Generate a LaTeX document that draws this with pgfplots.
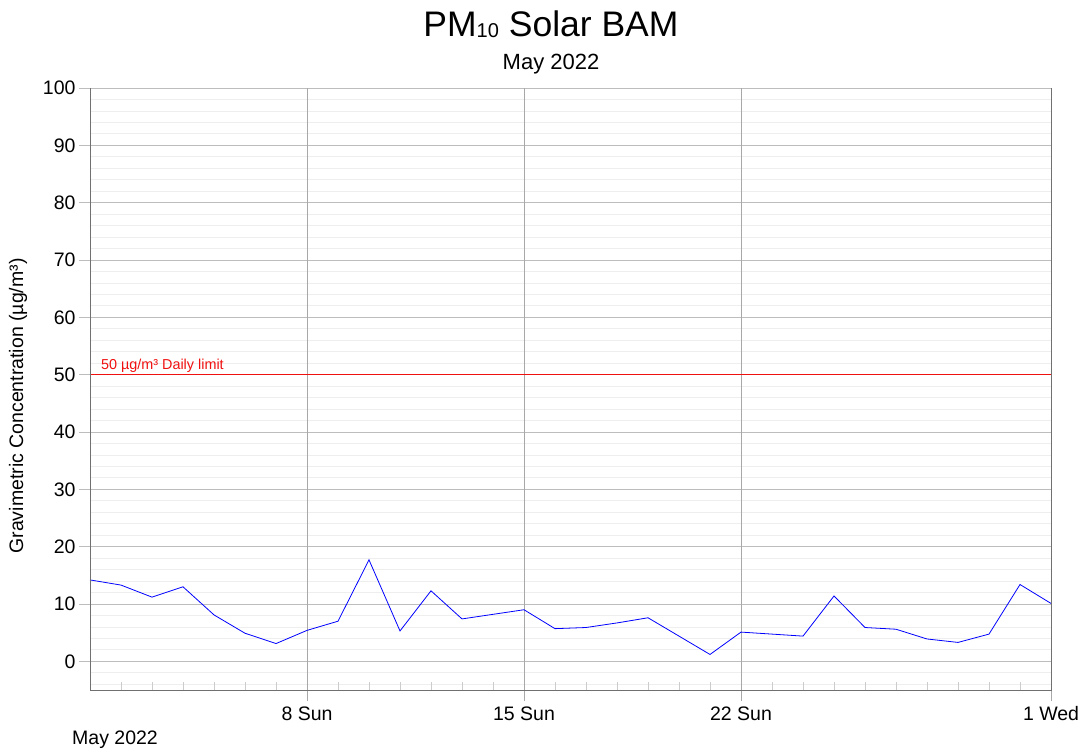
\documentclass[border=0pt]{standalone}
\usepackage{pgfplots}
\pgfplotsset{compat=1.18}
\usepackage{fontspec}
\setmainfont{Liberation Sans}
\definecolor{axgray}{HTML}{707070}
\definecolor{majgrid}{HTML}{BDBDBD}
\definecolor{vgrid}{HTML}{A8A8A8}
\definecolor{mingrid}{HTML}{EEEEEE}
\definecolor{mintick}{HTML}{CCCCCC}
\definecolor{limitred}{HTML}{F01010}
\begin{document}
\begin{tikzpicture}
\begin{axis}[
  name=ax,
  scale only axis,
  width=961pt, height=602pt,
  xmin=1, xmax=32, ymin=-5, ymax=100,
  axis line style={draw=none},
  xtick pos=bottom, ytick pos=left,
  xtick={8,15,22,32},
  xticklabels={8 Sun,15 Sun,22 Sun,1 Wed},
  minor xtick={2,3,4,5,6,7,9,10,11,12,13,14,16,17,18,19,20,21,23,24,25,26,27,28,29,30,31},
  ytick={0,10,...,100},
  minor ytick={-4,-2,...,98},
  ymajorgrids, yminorgrids,
  major grid style={majgrid, line width=0.8pt},
  minor grid style={mingrid, line width=0.8pt},
  tick align=outside,
  major tick length=11pt,
  minor tick length=8pt,
  major y tick style={majgrid, line width=0.8pt},
  major x tick style={vgrid, line width=0.8pt},
  minor x tick style={mintick, line width=0.8pt, yshift=8pt},
  minor y tick style={draw=none},
  tick label style={font=\fontsize{19.5}{22}\selectfont},
  /pgf/number format/assume math mode=true,
  yticklabel style={xshift=0pt},
  xticklabel style={yshift=-2pt},
  clip=false,
]
\draw[vgrid, line width=0.8pt] (axis cs:8,-5) -- (axis cs:8,100);
\draw[vgrid, line width=0.8pt] (axis cs:15,-5) -- (axis cs:15,100);
\draw[vgrid, line width=0.8pt] (axis cs:22,-5) -- (axis cs:22,100);
\addplot[limitred, line width=0.8pt] coordinates {(1,50) (32,50)};
\addplot[blue, line width=0.8pt] coordinates {
(1,14.2) (2,13.3) (3,11.2) (4,13.0) (5,8.1) (6,4.9) (7,3.1) (8,5.4)
(9,7.0) (10,17.7) (11,5.3) (12,12.3) (13,7.4) (14,8.2) (15,9.0) (16,5.7)
(17,5.9) (18,6.7) (19,7.6) (20,4.4) (21,1.2) (22,5.1) (23,4.75) (24,4.4)
(25,11.4) (26,5.9) (27,5.6) (28,3.9) (29,3.3) (30,4.75) (31,13.4) (32,10.1)};
\node[limitred, anchor=base west, font=\fontsize{14.4}{16}\selectfont, inner sep=0pt] at (axis cs:1.35,50.87) {50 µg/m³ Daily limit};
\draw[axgray, line width=0.9pt] (rel axis cs:0,1) -- (rel axis cs:0,0) -- (rel axis cs:1,0) -- (rel axis cs:1,1);
\end{axis}
\node[font=\fontsize{19.5}{22}\selectfont, rotate=90] at ([shift={(-72pt,284pt)}]ax.south west) {Gravimetric Concentration (µg/m³)};
\node[font=\fontsize{19.5}{22}\selectfont] at ([shift={(25pt,-50pt)}]ax.south west) {May 2022};
\node[font=\fontsize{35.5}{38}\selectfont, anchor=base] at ([shift={(461pt,51pt)}]ax.south west |- ax.north west) {PM\raisebox{-0.02em}{\fontsize{20}{22}\selectfont 10} Solar BAM};
\node[font=\fontsize{22}{24}\selectfont, anchor=base] at ([shift={(461pt,18pt)}]ax.south west |- ax.north west) {May 2022};
\pgfresetboundingbox
\path[use as bounding box] ([shift={(-90pt,-63pt)}]ax.south west) rectangle ([shift={(34pt,88pt)}]ax.north east);
\end{tikzpicture}
\end{document}
